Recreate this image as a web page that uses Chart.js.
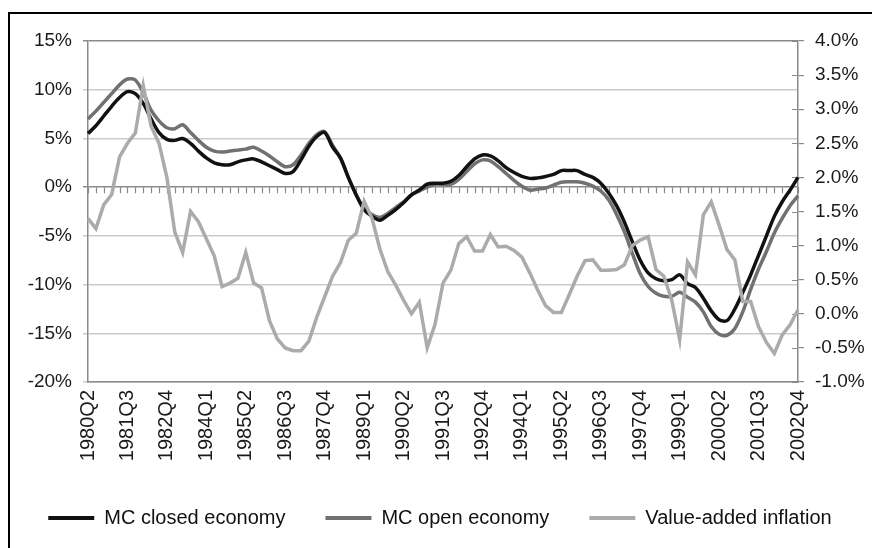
<!DOCTYPE html>
<html><head><meta charset="utf-8">
<script src="https://cdn.jsdelivr.net/npm/chart.js@4.4.1/dist/chart.umd.min.js"></script>
<style>
html,body{margin:0;padding:0;background:#fff;}
#wrap{position:relative;width:872px;height:548px;overflow:hidden;background:#fff;}
#frame{position:absolute;left:8px;top:12px;width:900px;height:600px;border-left:2px solid #000;border-top:2px solid #000;pointer-events:none;}
canvas{position:absolute;left:0;top:0;}
</style></head><body>
<div id="wrap"><canvas id="c" width="872" height="548"></canvas><div id="frame"></div></div>
<script>
const quarters = [
'1980Q2','1980Q3','1980Q4','1981Q1','1981Q2','1981Q3','1981Q4','1982Q1','1982Q2','1982Q3',
'1982Q4','1983Q1','1983Q2','1983Q3','1983Q4','1984Q1','1984Q2','1984Q3','1984Q4','1985Q1',
'1985Q2','1985Q3','1985Q4','1986Q1','1986Q2','1986Q3','1986Q4','1987Q1','1987Q2','1987Q3',
'1987Q4','1988Q1','1988Q2','1988Q3','1988Q4','1989Q1','1989Q2','1989Q3','1989Q4','1990Q1',
'1990Q2','1990Q3','1990Q4','1991Q1','1991Q2','1991Q3','1991Q4','1992Q1','1992Q2','1992Q3',
'1992Q4','1993Q1','1993Q2','1993Q3','1993Q4','1994Q1','1994Q2','1994Q3','1994Q4','1995Q1',
'1995Q2','1995Q3','1995Q4','1996Q1','1996Q2','1996Q3','1996Q4','1997Q1','1997Q2','1997Q3',
'1997Q4','1998Q1','1998Q2','1998Q3','1998Q4','1999Q1','1999Q2','1999Q3','1999Q4','2000Q1',
'2000Q2','2000Q3','2000Q4','2001Q1','2001Q2','2001Q3','2001Q4','2002Q1','2002Q2','2002Q3',
'2002Q4'];
const shownTicks = ['1980Q2','1981Q3','1982Q4','1984Q1','1985Q2','1986Q3','1987Q4','1989Q1','1990Q2',
'1991Q3','1992Q4','1994Q1','1995Q2','1996Q3','1997Q4','1999Q1','2000Q2','2001Q3','2002Q4'];
const seriesNames = ['MC closed economy','MC open economy','Value-added inflation'];
// left axis, percent
const mcClosed = [5.5,6.3,7.3,8.3,9.2,9.8,9.6,8.6,7.0,5.6,
 4.9,4.8,5.0,4.5,3.7,3.0,2.5,2.3,2.3,2.6,
 2.8,2.9,2.6,2.2,1.8,1.4,1.6,2.8,4.2,5.2,
 5.6,4.1,3.0,1.0,-0.8,-2.3,-3.0,-3.4,-2.9,-2.3,
 -1.6,-0.8,-0.3,0.3,0.4,0.4,0.6,1.2,2.1,2.9,
 3.3,3.2,2.7,2.0,1.5,1.1,0.9,0.95,1.1,1.3,
 1.7,1.7,1.7,1.3,1.0,0.4,-0.6,-1.9,-3.6,-5.6,
 -7.5,-8.8,-9.4,-9.6,-9.5,-9.0,-9.9,-10.3,-11.4,-12.7,
 -13.6,-13.7,-12.5,-10.8,-9.0,-7.0,-5.0,-3.0,-1.5,-0.3,
 1.0];
const mcOpen = [7.0,7.8,8.7,9.6,10.5,11.1,11.0,9.7,7.9,6.8,
 6.1,6.0,6.4,5.6,4.8,4.1,3.7,3.6,3.7,3.8,
 3.9,4.1,3.7,3.2,2.6,2.1,2.3,3.3,4.5,5.4,
 5.7,4.3,3.0,1.0,-0.8,-2.2,-2.8,-3.1,-2.7,-2.1,
 -1.5,-0.8,-0.4,0.0,0.3,0.3,0.3,0.8,1.6,2.4,
 2.8,2.7,2.1,1.4,0.7,0.1,-0.3,-0.2,-0.1,0.2,
 0.5,0.55,0.55,0.4,0.1,-0.4,-1.3,-2.8,-4.6,-6.8,
 -8.9,-10.2,-10.9,-11.2,-11.2,-10.8,-11.3,-11.8,-12.8,-14.3,
 -15.1,-15.2,-14.5,-12.8,-10.5,-8.4,-6.6,-4.7,-3.2,-1.9,
 -0.9];
// right axis, percent
const vaInflation = [1.4,1.25,1.6,1.75,2.3,2.5,2.65,3.35,2.75,2.5,
 2.0,1.2,0.9,1.5,1.35,1.1,0.85,0.4,0.45,0.52,
 0.9,0.45,0.38,-0.1,-0.37,-0.5,-0.54,-0.54,-0.4,-0.05,
 0.25,0.55,0.75,1.08,1.18,1.65,1.4,0.95,0.62,0.42,
 0.2,0.0,0.17,-0.5,-0.15,0.45,0.64,1.03,1.13,0.92,
 0.92,1.16,0.98,0.99,0.93,0.83,0.6,0.35,0.12,0.02,
 0.02,0.28,0.55,0.78,0.79,0.64,0.64,0.65,0.72,1.0,
 1.08,1.13,0.65,0.55,0.2,-0.38,0.76,0.57,1.45,1.64,
 1.3,0.94,0.79,0.18,0.18,-0.19,-0.42,-0.58,-0.31,-0.16,
 0.06];

const FONT = '"Liberation Sans", Arial, sans-serif';
Chart.defaults.font.family = FONT;
Chart.defaults.color = '#1a1a1a';

const axisDecor = {
  id: 'axisDecor',
  beforeDatasetsDraw(chart) {
    const ctx = chart.ctx, x = chart.scales.x, y = chart.scales.y, y1 = chart.scales.y1;
    ctx.save();
    ctx.strokeStyle = '#8a8a8a';
    ctx.lineWidth = 1.2;
    const y0 = y.getPixelForValue(0);
    ctx.beginPath();
    for (let i = 0; i < quarters.length; i++) {
      const px = Math.round(x.getPixelForValue(i)) + 0.5;
      ctx.moveTo(px, y0);
      ctx.lineTo(px, y0 + 6);
    }
    ctx.stroke();
    ctx.beginPath();
    const rx = y1.left;
    y1.ticks.forEach(t => {
      const py = Math.round(y1.getPixelForValue(t.value)) + 0.5;
      ctx.moveTo(rx - 6, py);
      ctx.lineTo(rx, py);
    });
    ctx.stroke();
    ctx.restore();
  }
};

new Chart(document.getElementById('c'), {
  type: 'line',
  data: {
    labels: quarters,
    datasets: [
      { label: seriesNames[0], data: mcClosed, yAxisID: 'y', borderColor: '#111111', backgroundColor: '#111111', borderWidth: 3.5, pointRadius: 0, tension: 0.3, order: 1 },
      { label: seriesNames[1], data: mcOpen, yAxisID: 'y', borderColor: '#717171', backgroundColor: '#717171', borderWidth: 3.5, pointRadius: 0, tension: 0.3, order: 2 },
      { label: seriesNames[2], data: vaInflation, yAxisID: 'y1', borderColor: '#ababab', backgroundColor: '#ababab', borderWidth: 3.5, pointRadius: 0, tension: 0, order: 0 }
    ]
  },
  options: {
    responsive: false,
    animation: false,
    layout: { padding: { left: 8, right: 0, top: 41, bottom: 10 } },
    plugins: {
      tooltip: { enabled: false },
      legend: {
        position: 'bottom',
        labels: {
          font: { size: 20 }, color: '#111', boxWidth: 46, boxHeight: 4, padding: 40,
          sort: (a, b) => a.datasetIndex - b.datasetIndex,
          generateLabels(chart) {
            return chart.data.datasets.map((d, i) => ({
              text: d.label, fillStyle: d.borderColor, strokeStyle: d.borderColor, lineWidth: 0,
              hidden: false, datasetIndex: i, fontColor: '#111'
            }));
          }
        }
      }
    },
    scales: {
      x: {
        type: 'category', offset: false,
        grid: { display: false, drawTicks: false },
        border: { display: true, color: '#8a8a8a', width: 1.5 },
        ticks: {
          autoSkip: false, maxRotation: 90, minRotation: 90, padding: 8,
          font: { size: 20 }, color: '#1a1a1a',
          callback(v) { const l = this.getLabelForValue(v); return shownTicks.includes(l) ? l : ''; }
        },
        afterFit(s) { s.height = 86; }
      },
      y: {
        position: 'left', min: -20, max: 15,
        ticks: { stepSize: 5, padding: 11, font: { size: 19 }, color: '#1a1a1a', callback: v => v + '%' },
        grid: {
          lineWidth: 1.5, tickLength: 5,
          color: c => (c.tick && (c.tick.value === 0 || c.tick.value === 15)) ? '#8a8a8a' : '#cbcbcb'
        },
        border: { color: '#8a8a8a', width: 1.5 },
        afterFit(s) { s.width = 80; }
      },
      y1: {
        position: 'right', min: -1, max: 4,
        ticks: { stepSize: 0.5, padding: 11, font: { size: 19 }, color: '#1a1a1a', callback: v => v.toFixed(1) + '%' },
        grid: { drawOnChartArea: false, tickLength: 6, color: '#8a8a8a', lineWidth: 1.2 },
        border: { color: '#8a8a8a', width: 1.5 },
        afterFit(s) { s.width = 74; }
      }
    }
  },
  plugins: [axisDecor]
});
</script>
</body></html>
